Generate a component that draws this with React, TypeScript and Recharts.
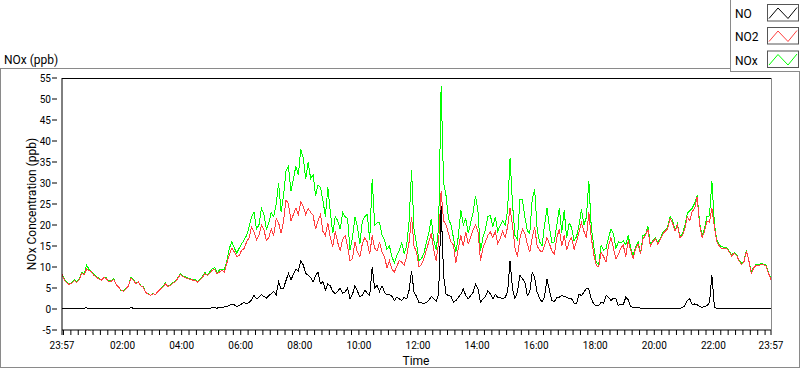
import { LineChart, Line, XAxis, YAxis } from 'recharts';

// readings every 5 minutes, starting 23:57
const STEP = 5;

const no = [
  0.2, 0.1, 0.1, 0.2, 0.2, 0.1, 0.1, 0.2, 0.1, 0.2, 0.3, 0.1, 0.2, 0.1, 0.1, 0.2, 0.1, 0.1, 0.1, 0.1, 0.2, 0.2, 0.1, 0.1,
  0.1, 0.1, 0.2, 0.1, 0.3, 0.2, 0.1, 0.1, 0.1, 0.1, 0.1, 0.2, 0, 0.1, 0.1, 0.1, 0.1, 0.2, 0.1, 0.1, 0.2, 0.1, 0.1, 0.2,
  0.1, 0.1, 0.1, 0.2, 0.1, 0.1, 0.1, 0.1, 0.1, 0.2, 0.2, 0.1, 0.2, 0.3, 0.3, 0.2, 0.4, 0.3, 0.5, 0.6, 0.8, 1.2, 1, 0.6,
  0.8, 1.2, 1.6, 1.2, 1.6, 2.2, 3.2, 2.4, 2.8, 3.4, 3, 2.6, 3.2, 3.6, 4.2, 3.4, 6.5, 4.8, 5, 6.8, 8.5, 7, 8.2, 9.5,
  9, 11.5, 10.5, 8.5, 8, 7.5, 6.4, 8, 8.8, 6, 6.5, 4.5, 6, 5.5, 4.2, 3.6, 4.2, 5, 3.8, 4, 5, 2.4, 3.5, 5.6,
  4.2, 3, 3.3, 4.5, 3.8, 3.2, 10, 5, 5.6, 4.2, 5.5, 4, 3.4, 3.5, 3, 2, 2.8, 2.4, 2, 2.8, 2.4, 4.5, 9, 4,
  3, 1.6, 1.5, 1.2, 1.6, 2, 3, 2.4, 1.8, 3.5, 24.5, 8, 3.5, 3.2, 3, 1.6, 2, 2.8, 3.5, 4.8, 3.2, 2.4, 3.2, 4,
  6, 4.8, 1.6, 2.4, 3, 4.4, 3.6, 2.4, 3.5, 2.8, 2.8, 2.4, 2.8, 4, 11.5, 4.8, 2.5, 4, 8, 7.2, 6.5, 3.2, 4, 8.8,
  7.5, 4, 2.6, 1.6, 3, 7.2, 4.5, 2, 1.7, 2.8, 2.8, 3.2, 3, 2.8, 2.4, 2.4, 1.4, 1.2, 3.6, 3.2, 4, 4.8, 4.8, 2.4,
  1.2, 0.8, 0.8, 1.6, 1.4, 3.2, 2.8, 2, 2.6, 2.4, 0.8, 1.2, 1, 2.8, 2.2, 0.6, 0.4, 0.3, 0.3, 0.2, 0.2, 0.2, 0.2, 0.2,
  0.2, 0.2, 0.2, 0.2, 0.2, 0.2, 0.2, 0.2, 0.2, 0.2, 0.2, 0.2, 0.3, 0.8, 2, 2.4, 1, 1.2, 1, 0.6, 0.4, 0.6, 0.8, 1.5,
  8, 0.5, 0.1, 0.2, 0.1, 0.2, 0.2, 0.2, 0.2, 0.2, 0.2, 0.2, 0.2, 0.2, 0.2, 0.2, 0.2, 0.2, 0.2, 0.2, 0.2, 0.2, 0.2, 0.2,
  0.2,
];

const no2 = [
  8.2, 6.8, 6.2, 5.8, 6.2, 6.8, 6.3, 6.9, 8.5, 8.2, 9.5, 9.2, 8.8, 8, 7.5, 7.2, 6.8, 7.5, 7.2, 6.5, 6.6, 7.0, 5.8, 5.2,
  4.5, 4.2, 4.8, 5.5, 7.4, 6.8, 6, 6.4, 5.5, 5.2, 4, 3.5, 3.3, 3.6, 3.5, 4.2, 4.8, 5.2, 6, 5.4, 5.6, 6.2, 6.5, 7.2,
  8.2, 7.8, 7.5, 7.2, 7.1, 6.9, 6.8, 6.4, 6.8, 7.5, 8.4, 8, 8.5, 9.2, 9.5, 8.4, 8.8, 9.2, 8.8, 11, 13, 14.5, 13.6, 12.5,
  12.8, 14, 14.4, 16, 17, 19.5, 18.3, 16.5, 17.5, 20, 19, 16.3, 17, 19, 17.5, 21.5, 20.5, 18, 21, 26, 25, 21, 22.5, 24,
  22.5, 25.5, 24.5, 22.5, 24, 23, 22.3, 19, 21, 22.5, 18.5, 17.5, 20.5, 17, 14.8, 18.5, 15.8, 14, 16.5, 17.5, 15, 11.5, 12, 16,
  13.5, 12.5, 15.5, 17, 16, 13, 17.5, 14.5, 13.8, 16, 13.5, 12.5, 9.8, 11.5, 9.5, 8.8, 10.2, 11.5, 11.2, 10.4, 12.5, 16, 22, 15,
  13.5, 10, 10.5, 12, 14, 16, 18, 14, 11.5, 16, 28, 21, 20, 18, 16, 15.2, 11, 14.5, 17.5, 15, 18.3, 15.5, 17, 19,
  20, 18.3, 11.5, 14.5, 16, 17.5, 18.3, 17, 18.5, 15.5, 16.7, 18.5, 17, 19.5, 24, 20, 14.5, 12.5, 16.7, 19, 18, 15.5, 13.5, 17,
  19.5, 15, 14, 13.5, 15, 17, 15.5, 13.8, 13, 17, 19, 15, 17.5, 14, 16, 17, 14.2, 16, 18.3, 20.5, 18.5, 17, 23, 17,
  13, 10.4, 10, 13.5, 12.5, 11.2, 15, 17, 14.5, 12, 13, 14.5, 15.2, 12.5, 16.3, 14, 12, 14.4, 15.5, 13, 16.7, 17.5, 19, 15,
  16, 16.7, 15.5, 16.5, 17.8, 18.5, 19.1, 21.5, 20.5, 18.5, 19.9, 17, 17.5, 19, 22, 21, 23.2, 24, 26.7, 19.9, 17, 18.5, 21, 20.7,
  24, 19.5, 16, 15, 14.4, 14.5, 14.4, 13.6, 12.6, 13.2, 12.8, 11.5, 10.6, 11.2, 13.8, 11.5, 8.5, 9.8, 10.4, 10.4, 10.6, 10.5, 10.2, 8.5,
  7,
];

const nox = [
  8.4, 7.0, 6.4, 6.0, 6.3, 7.0, 6.5, 7.1, 8.7, 8.4, 10.5, 9.4, 9, 8.2, 7.7, 7.4, 6.9, 7.6, 7.4, 6.6, 6.8, 7.2, 5.9, 5.3,
  4.4, 4.3, 4.9, 5.6, 7.6, 7.0, 6.2, 6.5, 5.5, 5.3, 3.9, 3.7, 3.2, 3.7, 3.4, 4.3, 4.9, 5.4, 6.2, 5.5, 5.7, 6.3, 6.6, 7.4,
  8.4, 7.9, 7.7, 7.4, 7.3, 7.0, 7, 6.5, 7, 7.7, 8.7, 8.1, 8.8, 9.5, 9.9, 8.6, 9.3, 9.5, 9.4, 11.6, 14.5, 16, 14.5, 13.3,
  14.5, 15.5, 16.5, 17.5, 19.5, 22, 23, 19, 20, 24, 22.5, 19, 20.5, 23, 22, 25, 30, 23, 27, 33, 34, 28, 31, 34,
  32, 38, 36, 31, 35, 31, 32, 27, 29.5, 29, 25.8, 22, 29, 23, 18, 22, 21, 19, 23, 22, 21.5, 14, 17, 22,
  19.5, 15.5, 21, 22, 22.5, 16.5, 31, 20, 20.5, 20.5, 17.5, 16.5, 14.2, 15, 12.5, 11, 12.8, 14, 15.8, 13.2, 15, 21, 33, 19,
  15.5, 11.6, 12, 13.2, 15.8, 18, 21.5, 16.5, 14, 19.5, 53, 30, 27, 21.5, 20, 17, 13.5, 17.3, 23.5, 20, 21.5, 18, 20.5, 23,
  27, 23, 13.8, 17, 19, 22, 22.3, 19.5, 22, 18.5, 19.9, 21, 20, 23.5, 36, 25, 17.5, 16.5, 26, 26, 22, 18.7, 18, 26,
  28.5, 19, 16, 15, 20, 24, 19.5, 15.8, 16, 20, 24, 18.2, 23.5, 16.8, 20.5, 19.4, 16.2, 17.2, 19.9, 23.7, 20, 21.8, 30.5, 19.4,
  15, 11.2, 10.5, 15.1, 14, 14.4, 17, 19, 18, 14.4, 16, 15.7, 16.2, 15.3, 17.5, 14.6, 12.8, 14.7, 16, 13.2, 17.5, 17.7, 19.8, 15.2,
  16.3, 16.9, 16, 16.7, 18.2, 18.7, 19.5, 22, 21.2, 18.7, 20.3, 17.2, 17.9, 19.8, 22.8, 23.4, 24, 25.2, 27.1, 20.5, 17.5, 19.1, 22, 22.2,
  30.5, 20.3, 16.4, 15.2, 14.8, 14.7, 14.6, 13.8, 12.9, 13.4, 13, 11.7, 10.9, 11.4, 14, 11.7, 8.8, 10, 10.6, 10.6, 10.8, 10.7, 10.4, 8.7,
  7.2,
];

const yTicks = [-5, 0, 5, 10, 15, 20, 25, 30, 35, 40, 45, 50, 55];
const majorTicks = [0, 123, 243, 363, 483, 603, 723, 843, 963, 1083, 1203, 1323, 1440];
const majorLabels = ['23:57', '02:00', '04:00', '06:00', '08:00', '10:00', '12:00', '14:00', '16:00', '18:00', '20:00', '22:00', '23:57'];

// minor ticks every 15 min on the clock
const minorTicks: number[] = [];
for (let t = 3; t < 1440; t += 15) minorTicks.push(t);
const xTicks = [0, ...minorTicks, 1440];

const rows = no.map((v, i) => ({ t: i * STEP, no: v, no2: no2[i], nox: nox[i] }));

const FONT = 'Roboto, "Noto Sans", sans-serif';

function TimeTick({ x, y, payload }: any) {
  const idx = majorTicks.indexOf(payload.value);
  return (
    <g>
      <line x1={x} x2={x} y1={y} y2={y + 5} stroke="#000" />
      {idx >= 0 && (
        <text x={x} y={y + 19} textAnchor="middle" fontSize={10} fontFamily={FONT} fill="#000">
          {majorLabels[idx]}
        </text>
      )}
    </g>
  );
}

function ValueTick({ x, y, payload }: any) {
  return (
    <g>
      <line x1={x - 10} x2={x - 5} y1={y} y2={y} stroke="#000" />
      <text x={x - 11} y={y} dy="0.35em" textAnchor="end" fontSize={10} fontFamily={FONT} fill="#000">
        {payload.value}
      </text>
    </g>
  );
}

const legendItems = [
  { name: 'NO', color: '#000000', top: 4 },
  { name: 'NO2', color: '#ff4040', top: 27 },
  { name: 'NOx', color: '#00ff00', top: 50.5 },
];

export default function App() {
  return (
    <div style={{ position: 'absolute', left: 0, top: 0, width: 800, height: 369, background: '#fff', overflow: 'hidden' }}>
      <style>{'.recharts-line-curve{shape-rendering:crispEdges}'}</style>
      <div
        style={{
          position: 'absolute',
          left: 0,
          top: 68,
          width: 798,
          height: 298,
          border: '1px solid #8a8a8a',
        }}
      />
      <div style={{ position: 'absolute', left: 0, top: 0 }}>
        <LineChart width={800} height={369} data={rows} margin={{ top: 78, right: 29, left: 10, bottom: 9 }}>
          <XAxis
            dataKey="t"
            type="number"
            domain={[0, 1440]}
            ticks={xTicks}
            interval={0}
            tick={<TimeTick />}
            tickLine={false}
            tickSize={0}
            tickMargin={0}
            height={30}
            axisLine={{ stroke: '#000' }}
          />
          <YAxis
            type="number"
            domain={[-5, 55]}
            ticks={yTicks}
            interval={0}
            tick={<ValueTick />}
            tickLine={false}
            tickSize={0}
            tickMargin={0}
            width={52}
            axisLine={{ stroke: '#000' }}
          />
          <Line type="linear" dataKey="nox" stroke="#00ff00" strokeWidth={1} dot={false} isAnimationActive={false} />
          <Line type="linear" dataKey="no2" stroke="#ff4040" strokeWidth={1} dot={false} isAnimationActive={false} />
          <Line type="linear" dataKey="no" stroke="#000000" strokeWidth={1} dot={false} isAnimationActive={false} />
        </LineChart>
      </div>
      <svg
        width={800}
        height={369}
        style={{ position: 'absolute', left: 0, top: 0, pointerEvents: 'none' }}
        fontFamily={FONT}
      >
        <line x1={62} x2={772} y1={78.5} y2={78.5} stroke="#000" />
        <line x1={771.5} x2={771.5} y1={78} y2={330} stroke="#8a8a8a" />
        <text x={4} y={64} fontSize={12} fill="#000">NOx (ppb)</text>
        <text x={36} y={204} fontSize={12} fill="#000" textAnchor="middle" transform="rotate(-90 36 204)">
          NOx Concentration (ppb)
        </text>
        <text x={416} y={365} fontSize={12} fill="#000" textAnchor="middle">Time</text>
        <rect x={730.5} y={-1} width={70} height={72.5} fill="#fff" stroke="#8a8a8a" />
        {legendItems.map((item) => (
          <g key={item.name}>
            <text x={735} y={item.top + 14} fontSize={12} fill="#000">{item.name}</text>
            <rect x={767.5} y={item.top + 0.5} width={31} height={16.5} fill="#fff" stroke="#555" />
            <polyline
              points={`${769},${item.top + 14.5} ${778},${item.top + 4} ${788},${item.top + 14.5} ${797},${item.top + 3.5}`}
              fill="none"
              stroke={item.color}
            />
          </g>
        ))}
      </svg>
    </div>
  );
}
